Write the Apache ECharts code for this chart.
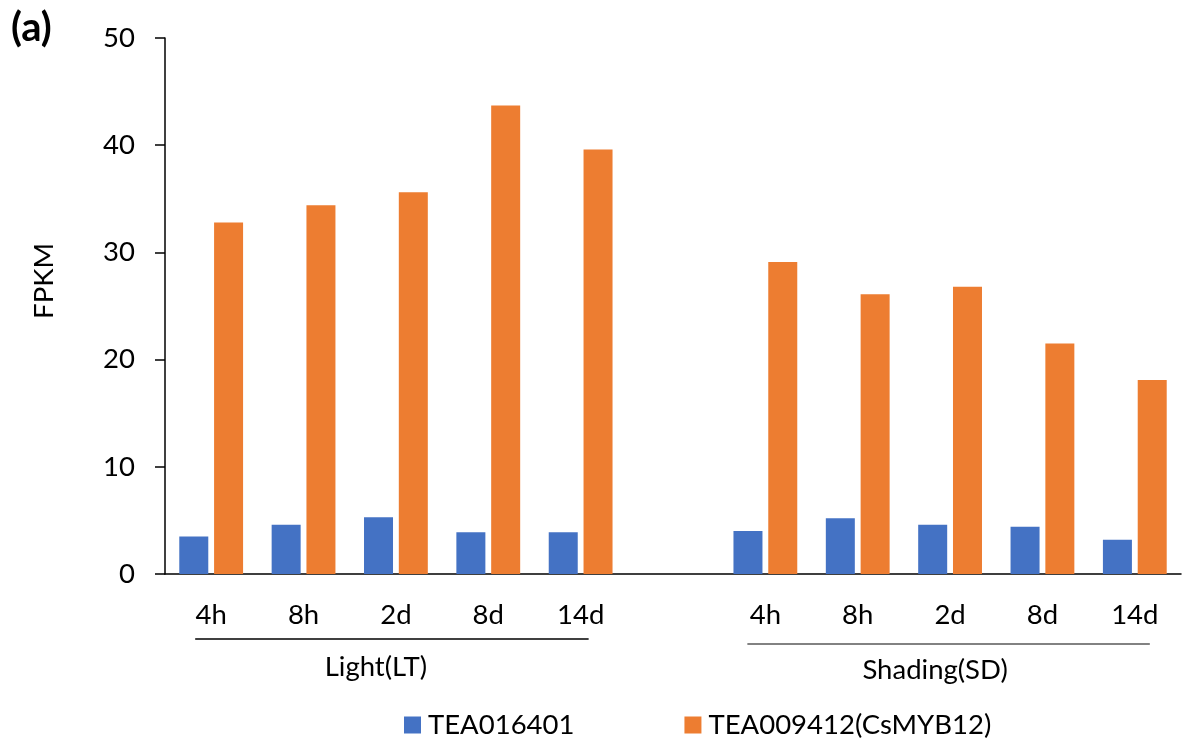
<!DOCTYPE html>
<html>
<head>
<meta charset="utf-8">
<script src="https://cdn.jsdelivr.net/npm/echarts@6/dist/echarts.min.js"></script>
<style>
  html, body { margin: 0; padding: 0; background: #fff; }
  #chart { width: 1185px; height: 741px; }
</style>
</head>
<body>
<div id="chart"></div>
<script>
// Time points, with an empty slot separating the two treatments
const categories = ['4h', '8h', '2d', '8d', '14d', '', '4h', '8h', '2d', '8d', '14d'];
const groupNames = ['Light(LT)', 'Shading(SD)'];
const groupRanges = [[0, 4], [6, 10]];
const seriesNames = ['TEA016401', 'TEA009412(CsMYB12)'];
const tea016401 = [3.5, 4.6, 5.3, 3.9, 3.9, null, 4.0, 5.2, 4.6, 4.4, 3.2];
const tea009412 = [32.8, 34.4, 35.6, 43.7, 39.6, null, 29.1, 26.1, 26.8, 21.5, 18.1];
const yTicks = [0, 10, 20, 30, 40, 50];

const FONT = 'Lato, "Open Sans", sans-serif';
const FS = 27.5;
const chart = echarts.init(document.getElementById('chart'));

chart.setOption({
  animation: false,
  textStyle: { fontFamily: FONT, color: '#000' },
  title: {
    text: '(a)', left: 6, top: 3,
    textStyle: { fontFamily: FONT, fontWeight: 'bold', fontSize: 40, color: '#000' }
  },
  legend: {
    left: 399, top: 706,
    itemWidth: 17, itemHeight: 17, itemGap: 110,
    icon: 'rect',
    textStyle: { fontFamily: FONT, fontSize: FS, color: '#000', padding: [0, 0, 0, 2] },
    data: seriesNames
  },
  grid: { left: 165, right: 4, top: 38, bottom: 167, containLabel: false },
  xAxis: {
    type: 'category',
    data: categories,
    axisLine: { lineStyle: { color: '#000', width: 1.5 } },
    axisTick: { show: false },
    axisLabel: { fontFamily: FONT, fontSize: FS, color: '#000', margin: 27, interval: 0 }
  },
  yAxis: {
    type: 'value',
    min: yTicks[0], max: yTicks[yTicks.length - 1], interval: 10,
    name: 'FPKM', nameLocation: 'middle', nameRotate: 90, nameGap: 107,
    nameTextStyle: { fontFamily: FONT, fontSize: 27.5, color: '#000', padding: [0, 0, 0, 50] },
    axisLine: { show: true, lineStyle: { color: '#000', width: 1.5 } },
    axisTick: { show: true, length: 10, lineStyle: { color: '#000', width: 1.5 } },
    axisLabel: { fontFamily: FONT, fontSize: FS, color: '#000', margin: 30 },
    splitLine: { show: false }
  },
  series: [
    {
      name: seriesNames[0], type: 'bar', data: tea016401,
      barWidth: 29, barGap: '20%',
      itemStyle: { color: '#4472C4' }
    },
    {
      name: seriesNames[1], type: 'bar', data: tea009412,
      barWidth: 29, barGap: '20%',
      itemStyle: { color: '#ED7D31' }
    }
  ]
});

// Treatment brackets: a rule under each group of time labels and its name below
function drawGroups() {
  const y0 = chart.convertToPixel({ yAxisIndex: 0 }, 0);
  const elements = [];
  groupRanges.forEach((r, i) => {
    const xa = chart.convertToPixel({ xAxisIndex: 0 }, r[0]);
    const xb = chart.convertToPixel({ xAxisIndex: 0 }, r[1]);
    const lineY = y0 + 65 + i * 5;
    elements.push({
      type: 'line',
      shape: { x1: xa - 16 - i * 2, y1: lineY, x2: xb + 8 + i * 7, y2: lineY },
      style: { stroke: i === 0 ? '#000' : '#595959', lineWidth: 1.5 }
    });
    elements.push({
      type: 'text',
      x: (xa + xb) / 2 - 20 + i * 5,
      y: lineY + 28 - i * 2,
      style: {
        text: groupNames[i], fontFamily: FONT, fontSize: FS, fill: '#000',
        align: 'center', verticalAlign: 'middle'
      }
    });
  });
  chart.setOption({ graphic: elements });
}
drawGroups();
</script>
</body>
</html>
